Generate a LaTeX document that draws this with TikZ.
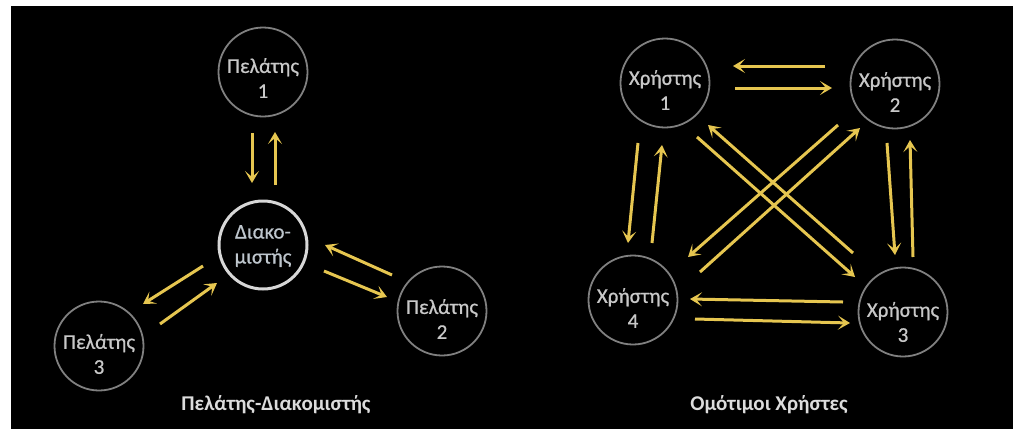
\documentclass[tikz,border=0pt]{standalone}
\usepackage{fontspec}
\setmainfont{Carlito}
\newfontfamily\semifont[FakeBold=0.6]{Carlito}
\usetikzlibrary{arrows.meta}
\definecolor{gold}{RGB}{230,198,80}
\definecolor{ringgray}{RGB}{128,128,128}
\definecolor{ringlight}{RGB}{215,215,215}
\definecolor{txtgray}{RGB}{200,200,200}
\definecolor{servertxt}{RGB}{190,198,205}
\definecolor{titlegray}{RGB}{220,220,220}
\tikzset{
  ring/.style={circle, draw=ringgray, line width=1.8pt, minimum size=89pt, inner sep=0pt},
  serverring/.style={circle, draw=ringlight, line width=3pt, minimum size=88pt, inner sep=0pt},
  intext/.style={text=txtgray, align=center, font=\semifont\fontsize{21}{25}\selectfont, inner sep=0pt},
  title/.style={text=titlegray, font=\bfseries\fontsize{21}{25}\selectfont, inner sep=0pt},
  arr/.style={draw=gold, line width=3pt, -{Stealth[length=12pt,width=14pt,inset=6pt]}},
}
\begin{document}
\begin{tikzpicture}[x=1pt,y=-1pt]
\useasboundingbox (0,0) rectangle (1013,429);
\fill[white] (0,0) rectangle (1013,429);
\fill[black] (11,6) rectangle (1013,429);
% left diagram
\node[ring] (P1) at (263,72) {};
\node[serverring] (S) at (263,245) {};
\node[ring] (P2) at (442,311) {};
\node[ring] (P3) at (99,346) {};
\node[intext] (P1t) at ([yshift=-6]P1.center) {Πελάτης\\1};
\node[intext, text=servertxt] (St) at ([yshift=-1]S.center) {Διακο-\\μιστής};
\node[intext] (P2t) at ([yshift=-8]P2.center) {Πελάτης\\2};
\node[intext] (P3t) at ([yshift=-8]P3.center) {Πελάτης\\3};
\draw[arr] ([shift={(-11,61)}]P1.center) -- ([shift={(-11,-62)}]S.center);
\draw[arr] ([shift={(12,-60)}]S.center) -- ([shift={(12,60)}]P1.center);
\draw[arr] ([shift={(-50,-36)}]P2.center) -- ([shift={(62,0)}]S.center);
\draw[arr] ([shift={(61,26)}]S.center) -- ([shift={(-55,-14)}]P2.center);
\draw[arr] ([shift={(-60,21)}]S.center) -- ([shift={(44,-42)}]P3.center);
\draw[arr] ([shift={(61,-22)}]P3.center) -- ([shift={(-46,38)}]S.center);
\node[title] (T1) at (276,405) {Πελάτης-Διακομιστής};
% right diagram
\node[ring] (U1) at (665,83) {};
\node[ring] (U2) at (895,84) {};
\node[ring] (U4) at (633,300) {};
\node[ring] (U3) at (903,312) {};
\node[intext] (U1t) at ([yshift=-7]U1.center) {Χρήστης\\1};
\node[intext] (U2t) at ([yshift=-8]U2.center) {Χρήστης\\2};
\node[intext] (U4t) at ([yshift=-8]U4.center) {Χρήστης\\4};
\node[intext] (U3t) at ([yshift=-10]U3.center) {Χρήστης\\3};
\draw[arr] ([shift={(-70,-18)}]U2.center) -- ([shift={(68,-17)}]U1.center);
\draw[arr] ([shift={(70,5)}]U1.center) -- ([shift={(-63,4)}]U2.center);
\draw[arr] ([shift={(-27,60)}]U1.center) -- ([shift={(-5,-57)}]U4.center);
\draw[arr] ([shift={(19,-57)}]U4.center) -- ([shift={(-3,62)}]U1.center);
\draw[arr] ([shift={(-8,59)}]U2.center) -- ([shift={(-8,-57)}]U3.center);
\draw[arr] ([shift={(10,-55)}]U3.center) -- ([shift={(15,56)}]U2.center);
\draw[arr] ([shift={(-50,-59)}]U3.center) -- ([shift={(43,42)}]U1.center);
\draw[arr] ([shift={(32,54)}]U1.center) -- ([shift={(-48,-35)}]U3.center);
\draw[arr] ([shift={(67,-28)}]U4.center) -- ([shift={(-35,44)}]U2.center);
\draw[arr] ([shift={(-57,41)}]U2.center) -- ([shift={(55,-43)}]U4.center);
\draw[arr] ([shift={(-60,-10)}]U3.center) -- ([shift={(57,-1)}]U4.center);
\draw[arr] ([shift={(62,19)}]U4.center) -- ([shift={(-53,11)}]U3.center);
\node[title] (T2) at (769,405) {Ομότιμοι Χρήστες};
\end{tikzpicture}
\end{document}
